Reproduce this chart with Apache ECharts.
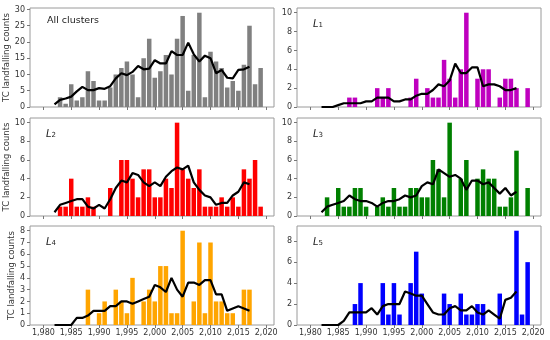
<!DOCTYPE html>
<html><head><meta charset="utf-8">
<script src="https://cdn.jsdelivr.net/npm/echarts@6/dist/echarts.min.js"></script>
<style>html,body{margin:0;padding:0;background:#fff}#c{width:550px;height:340px}</style>
</head><body><div id="c"></div><script>
// ---- data ----
const years = [1980,1981,1982,1983,1984,1985,1986,1987,1988,1989,
  1990,1991,1992,1993,1994,1995,1996,1997,1998,1999,
  2000,2001,2002,2003,2004,2005,2006,2007,2008,2009,
  2010,2011,2012,2013,2014,2015,2016,2017,2018,2019];
const meanYears = [1982,1983,1984,1985,1986,1987,1988,1989,
  1990,1991,1992,1993,1994,1995,1996,1997,1998,1999,
  2000,2001,2002,2003,2004,2005,2006,2007,2008,2009,
  2010,2011,2012,2013,2014,2015,2016,2017];
const xTickLabels = [1980,1985,1990,1995,2000,2005,2010,2015,2020];

const allCounts = [0,0,0,3,1,7,2,3,11,8, 2,2,6,10,12,14,10,3,15,21, 9,11,16,10,21,28,5,16,29,3, 17,14,12,6,8,5,13,25,7,12];
const l1Counts  = [0,0,0,0,0,0,0,1,1,0, 0,0,2,1,2,0,0,0,1,3, 0,2,1,1,5,3,1,4,10,0, 3,4,4,0,1,3,3,2,0,2];
const l2Counts  = [0,0,0,1,1,4,1,1,2,1, 0,0,3,0,6,6,4,2,5,5, 2,2,4,3,10,5,4,3,5,1, 1,1,2,1,2,1,5,4,6,1];
const l3Counts  = [0,0,0,2,0,3,1,1,3,3, 1,0,1,2,1,3,1,1,3,3, 2,2,6,5,2,10,0,4,6,0, 4,5,4,4,1,1,2,7,0,3];
const l4Counts  = [0,0,0,0,0,0,0,0,3,0, 1,2,0,3,2,1,4,0,2,3, 2,5,5,1,1,8,0,2,7,1, 7,2,2,1,1,0,3,3,0,0];
const l5Counts  = [0,0,0,0,0,0,0,0,2,4, 0,0,0,4,1,4,1,0,4,7, 3,0,0,0,3,2,0,3,1,1, 2,2,0,0,3,0,0,9,1,6];

const allMean = [0.8,2.2,2.6,3.2,4.8,6.2,5.2,5.2,5.8,5.6,6.4,8.8,10.4,9.8,10.8,12.6,11.6,11.8,
  14.4,13.4,13.4,17.2,16.0,16.0,19.8,16.2,14.0,15.8,15.0,10.4,11.4,9.0,8.8,11.4,11.6,12.4];
const l1Mean = [0,0,0,0.2,0.4,0.4,0.4,0.4,0.6,0.6,1.0,1.0,1.0,0.6,0.6,0.8,0.8,1.2,
  1.4,1.4,1.8,2.4,2.2,2.8,4.6,3.6,3.6,4.2,4.2,2.2,2.4,2.4,2.2,1.8,1.8,2.0];
const l2Mean = [0.4,1.2,1.4,1.6,1.8,1.8,1.0,0.8,1.2,0.8,1.8,3.0,3.8,3.6,4.6,4.4,3.6,3.2,
  3.6,3.2,4.2,4.8,5.2,5.0,5.4,3.6,2.8,2.2,2.0,1.2,1.4,1.4,2.2,2.6,3.6,3.4];
const l3Mean = [0.4,1.0,1.2,1.4,1.6,2.2,1.8,1.6,1.6,1.4,1.0,1.4,1.6,1.6,1.8,2.2,2.0,2.2,
  3.2,3.6,3.4,5.0,4.6,4.2,4.4,4.0,2.8,3.8,3.8,3.4,3.6,3.0,2.4,3.0,2.2,2.6];
const l4Mean = [0,0,0,0,0.6,0.6,0.8,1.2,1.2,1.2,1.6,1.6,2.0,2.0,1.8,2.0,2.2,2.4,
  3.4,3.2,2.8,4.0,3.0,2.4,3.6,3.6,3.4,3.8,3.8,2.6,2.6,1.2,1.4,1.6,1.4,1.2];
const l5Mean = [0,0,0,0,0.4,1.2,1.2,1.2,1.2,1.6,1.0,1.8,2.0,2.0,2.0,3.2,3.0,2.8,
  2.8,2.0,1.2,1.0,1.0,1.6,1.8,1.4,1.4,1.8,1.2,1.0,1.4,1.0,0.6,2.4,2.6,3.2];

const allTicks = [0,5,10,15,20,25,30];
const l1Ticks = [0,2,4,6,8,10];
const l2Ticks = [0,2,4,6,8,10];
const l3Ticks = [0,2,4,6,8,10];
const l4Ticks = [0,1,2,3,4,5,6,7,8];
const l5Ticks = [0,2,4,6,8];

const panelTitles = ['All clusters','{i|L}{s|1}','{i|L}{s|2}','{i|L}{s|3}','{i|L}{s|4}','{i|L}{s|5}'];

// ---- layout ----
const panels = [
  {counts: allCounts, mean: allMean, ticks: allTicks, color: '#808080'},
  {counts: l1Counts, mean: l1Mean, ticks: l1Ticks, color: '#bf00bf'},
  {counts: l2Counts, mean: l2Mean, ticks: l2Ticks, color: '#ff0000'},
  {counts: l3Counts, mean: l3Mean, ticks: l3Ticks, color: '#008000'},
  {counts: l4Counts, mean: l4Mean, ticks: l4Ticks, color: '#ffa500'},
  {counts: l5Counts, mean: l5Mean, ticks: l5Ticks, color: '#0000ff'}
];
const colLeft = [30, 297], colW = 244;
const rowTop = [8, 118, 226], rowH = [99, 98, 99];
const FONT = 'DejaVu Sans';

const grid = [], xAxis = [], yAxis = [], series = [], title = [];
panels.forEach((p, i) => {
  const col = i % 2, row = Math.floor(i / 2);
  grid.push({left: colLeft[col], top: rowTop[row], width: colW, height: rowH[row],
    show: true, borderColor: '#9a9a9a', borderWidth: 1, backgroundColor: 'transparent'});
  xAxis.push({type: 'value', gridIndex: i, min: 1977.6, max: 2021.4,
    axisLine: {show: false}, splitLine: {show: false},
    axisTick: {show: true, length: 3, lineStyle: {color: '#777'}, customValues: xTickLabels},
    axisLabel: {show: row === 2, customValues: xTickLabels, fontSize: 8, color: '#333', fontFamily: FONT, margin: 4}
  });
  const ymax = Math.max(...p.counts) * 1.05;
  yAxis.push({type: 'value', gridIndex: i, min: 0, max: ymax,
    axisLine: {show: false}, splitLine: {show: false},
    axisTick: {show: true, length: 3, lineStyle: {color: '#777'}, customValues: p.ticks},
    axisLabel: {customValues: p.ticks, fontSize: 8, color: '#333', fontFamily: FONT, margin: 5},
    name: col === 0 ? 'TC landfalling counts' : '', nameLocation: 'middle', nameGap: 13,
    nameTextStyle: {fontSize: 8.5, color: '#333', fontFamily: FONT}
  });
  series.push({type: 'bar', xAxisIndex: i, yAxisIndex: i, barWidth: 4.5,
    itemStyle: {color: p.color}, silent: true,
    data: years.map((y, k) => [y, p.counts[k]])});
  series.push({type: 'line', xAxisIndex: i, yAxisIndex: i, symbol: 'none', silent: true,
    lineStyle: {color: '#000', width: 2.2}, z: 5,
    data: meanYears.map((y, k) => [y, p.mean[k]])});
  title.push({text: panelTitles[i], left: colLeft[col] + (i === 0 ? 12 : 11), top: rowTop[row] + (i === 0 ? 3 : 2),
    textStyle: {fontSize: 9.5, fontWeight: 'normal', color: '#222', fontFamily: FONT,
      rich: {i: {fontStyle: 'italic', fontSize: 10, color: '#222', fontFamily: FONT, lineHeight: 14, verticalAlign: 'bottom'},
             s: {fontSize: 7, color: '#222', fontFamily: FONT, lineHeight: 10, verticalAlign: 'bottom', padding: [3,0,0,0]}}}
  });
});

const chart = echarts.init(document.getElementById('c'), null, {renderer: 'canvas'});
chart.setOption({animation: false, backgroundColor: '#fff', grid, xAxis, yAxis, series, title});
</script></body></html>
